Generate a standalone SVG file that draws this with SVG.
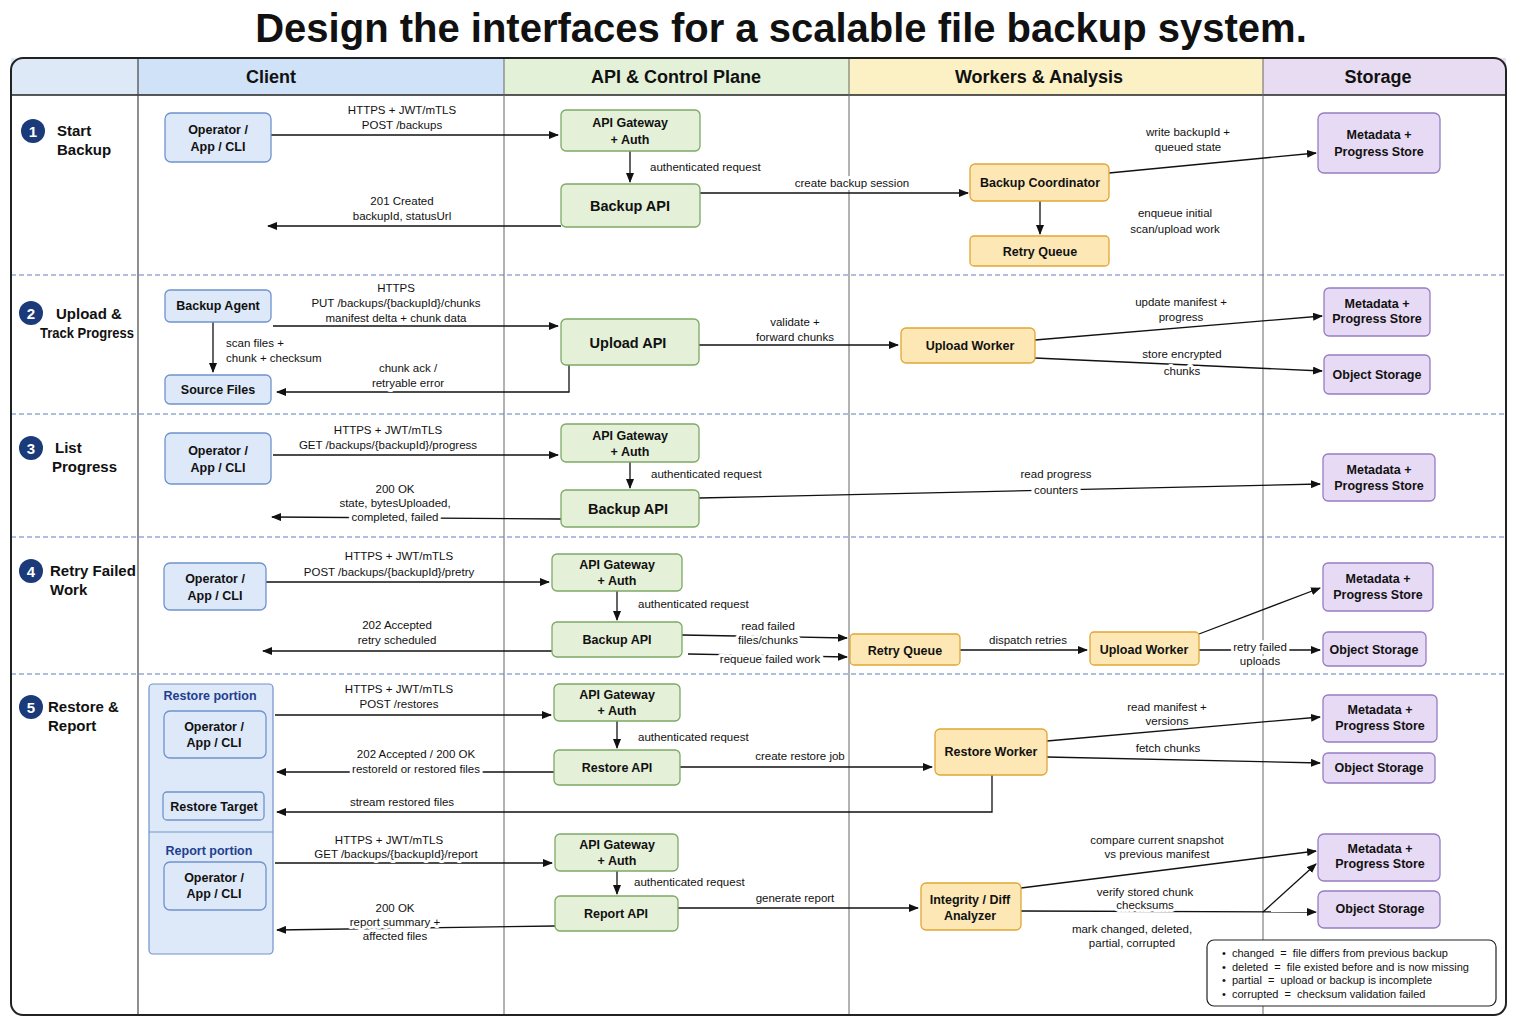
<svg xmlns="http://www.w3.org/2000/svg" width="1536" height="1024" viewBox="0 0 1536 1024">
<style>
text{font-family:"Liberation Sans",Arial,sans-serif;fill:#111}
.title{font-size:40px;font-weight:bold;text-anchor:middle}
.hd{font-size:18px;font-weight:bold;text-anchor:middle}
.rl{font-size:15px;font-weight:bold}
.num{font-size:15px;font-weight:bold;fill:#fff;text-anchor:middle}
.n{font-size:12.5px;font-weight:bold;text-anchor:middle}
.nb{font-size:14.5px;font-weight:bold;text-anchor:middle}
.l{font-size:11.5px;text-anchor:middle;paint-order:stroke;stroke:#fff;stroke-width:6px;stroke-linejoin:round}
.ls{text-anchor:start}
.c rect{fill:#dde8f8;stroke:#6f93cc;stroke-width:1.3}
.a rect{fill:#e4f0d7;stroke:#7da866;stroke-width:1.3}
.w rect{fill:#fde8b5;stroke:#e0a636;stroke-width:1.3}
.s rect{fill:#e7daf4;stroke:#977cc2;stroke-width:1.3}
.e line,.e polyline{stroke:#111;stroke-width:1.3;fill:none;marker-end:url(#ar)}
.sep{stroke:#5f7fbf;stroke-width:1.2;stroke-dasharray:5 3}
.pt{font-size:12.5px;font-weight:bold;fill:#1f3f8f;text-anchor:middle}
.lg{font-size:11px;white-space:pre}
</style>
<defs><marker id="ar" markerWidth="10" markerHeight="8" refX="9" refY="4" orient="auto" markerUnits="userSpaceOnUse"><path d="M0,0 L10,4 L0,8 z" fill="#111"/></marker></defs>
<rect width="1536" height="1024" fill="#fff"/>
<text class="title" x="781" y="42">Design the interfaces for a scalable file backup system.</text>
<g id="frame">
<rect x="11" y="58" width="127" height="37" fill="#dde9f7"/>
<rect x="138" y="58" width="366" height="37" fill="#cfe2f7"/>
<rect x="504" y="58" width="345" height="37" fill="#e3f1d8"/>
<rect x="849" y="58" width="414" height="37" fill="#fcf1c4"/>
<rect x="1263" y="58" width="243" height="37" fill="#e8dcf3"/>
<text class="hd" x="271" y="83">Client</text>
<text class="hd" x="676" y="83">API &amp; Control Plane</text>
<text class="hd" x="1039" y="83">Workers &amp; Analysis</text>
<text class="hd" x="1378" y="83">Storage</text>
<line x1="11" y1="95" x2="1506" y2="95" stroke="#222" stroke-width="1.5"/>
<line x1="138" y1="58" x2="138" y2="1015" stroke="#444" stroke-width="1.2"/>
<line x1="504" y1="58" x2="504" y2="1015" stroke="#666" stroke-width="1"/>
<line x1="849" y1="58" x2="849" y2="1015" stroke="#666" stroke-width="1"/>
<line x1="1263" y1="58" x2="1263" y2="1015" stroke="#666" stroke-width="1"/>
<line class="sep" x1="11" y1="275" x2="1506" y2="275"/>
<line class="sep" x1="11" y1="414" x2="1506" y2="414"/>
<line class="sep" x1="11" y1="537" x2="1506" y2="537"/>
<line class="sep" x1="11" y1="674" x2="1506" y2="674"/>
<rect x="11" y="58" width="1495" height="957" rx="12" fill="none" stroke="#222" stroke-width="2"/>
</g>
<g id="rowlabels">
<circle cx="33" cy="131" r="12" fill="#1a3a7a"/><text class="num" x="33" y="137">1</text>
<text class="rl" x="57" y="136">Start</text><text class="rl" x="57" y="155">Backup</text>
<circle cx="31" cy="313" r="12" fill="#1a3a7a"/><text class="num" x="31" y="319">2</text>
<text class="rl" x="56" y="319">Upload &amp;</text><text class="rl" x="40" y="338" textLength="94" lengthAdjust="spacingAndGlyphs">Track Progress</text>
<circle cx="31" cy="448" r="12" fill="#1a3a7a"/><text class="num" x="31" y="454">3</text>
<text class="rl" x="55" y="453">List</text><text class="rl" x="52" y="472">Progress</text>
<circle cx="31" cy="571" r="12" fill="#1a3a7a"/><text class="num" x="31" y="577">4</text>
<text class="rl" x="50" y="576">Retry Failed</text><text class="rl" x="50" y="595">Work</text>
<circle cx="31" cy="707" r="12" fill="#1a3a7a"/><text class="num" x="31" y="713">5</text>
<text class="rl" x="48" y="712">Restore &amp;</text><text class="rl" x="48" y="731">Report</text>
</g>
<g id="portions">
<rect x="149" y="684" width="124" height="270" rx="4" fill="#dde8f8" stroke="#6f93cc" stroke-width="1.2"/>
<line x1="149" y1="832" x2="273" y2="832" stroke="#6f93cc" stroke-width="1.2"/>
<text class="pt" x="210" y="700">Restore portion</text>
<text class="pt" x="209" y="855">Report portion</text>
</g>
<g id="connectors" class="e">
<line x1="271" y1="135" x2="558" y2="135"/>
<line x1="630" y1="151" x2="630" y2="182"/>
<line x1="700" y1="193" x2="968" y2="193"/>
<line x1="561" y1="226" x2="268" y2="226"/>
<line x1="1109" y1="173" x2="1316" y2="153"/>
<line x1="1040" y1="201" x2="1040" y2="234"/>
<line x1="273" y1="326" x2="558" y2="326"/>
<line x1="213" y1="322" x2="213" y2="372"/>
<polyline points="569,365 569,392 277,392"/>
<line x1="699" y1="345" x2="898" y2="345"/>
<line x1="1035" y1="340" x2="1322" y2="316"/>
<line x1="1035" y1="358" x2="1322" y2="371"/>
<line x1="273" y1="455" x2="558" y2="455"/>
<line x1="630" y1="462" x2="630" y2="488"/>
<line x1="699" y1="498" x2="1320" y2="484"/>
<line x1="561" y1="519" x2="272" y2="517"/>
<line x1="266" y1="582" x2="549" y2="582"/>
<line x1="617" y1="591" x2="617" y2="620"/>
<line x1="552" y1="651" x2="263" y2="651"/>
<line x1="682" y1="635" x2="847" y2="638"/>
<line x1="688" y1="654" x2="847" y2="657"/>
<line x1="960" y1="650" x2="1087" y2="650"/>
<line x1="1199" y1="634" x2="1320" y2="588"/>
<line x1="1199" y1="650" x2="1320" y2="650"/>
<line x1="275" y1="715" x2="551" y2="715"/>
<line x1="617" y1="721" x2="617" y2="748"/>
<line x1="554" y1="772" x2="277" y2="772"/>
<line x1="680" y1="767" x2="932" y2="767"/>
<line x1="1047" y1="741" x2="1320" y2="717"/>
<line x1="1047" y1="757" x2="1320" y2="763"/>
<polyline points="992,775 992,812 277,812"/>
<line x1="275" y1="863" x2="552" y2="863"/>
<line x1="617" y1="871" x2="617" y2="894"/>
<line x1="555" y1="926" x2="277" y2="930"/>
<line x1="678" y1="908" x2="918" y2="908"/>
<line x1="1021" y1="888" x2="1316" y2="851"/>
<line x1="1021" y1="911" x2="1316" y2="912"/>
<line x1="1263" y1="912" x2="1316" y2="864"/>
</g>
<g id="labels">
<text class="l" x="402" y="114">HTTPS + JWT/mTLS</text><text class="l" x="402" y="129">POST /backups</text>
<text class="l ls" x="650" y="171">authenticated request</text>
<text class="l" x="852" y="187">create backup session</text>
<text class="l" x="402" y="205">201 Created</text><text class="l" x="402" y="220">backupId, statusUrl</text>
<text class="l" x="1188" y="136">write backupId +</text><text class="l" x="1188" y="151">queued state</text>
<text class="l" x="1175" y="217">enqueue initial</text><text class="l" x="1175" y="233">scan/upload work</text>
<text class="l" x="396" y="292">HTTPS</text><text class="l" x="396" y="307">PUT /backups/{backupId}/chunks</text><text class="l" x="396" y="322">manifest delta + chunk data</text>
<text class="l ls" x="226" y="347">scan files +</text><text class="l ls" x="226" y="362">chunk + checksum</text>
<text class="l" x="408" y="372">chunk ack /</text><text class="l" x="408" y="387">retryable error</text>
<text class="l" x="795" y="326">validate +</text><text class="l" x="795" y="341">forward chunks</text>
<text class="l" x="1181" y="306">update manifest +</text><text class="l" x="1181" y="321">progress</text>
<text class="l" x="1182" y="358">store encrypted</text><text class="l" x="1182" y="375">chunks</text>
<text class="l" x="388" y="434">HTTPS + JWT/mTLS</text><text class="l" x="388" y="449">GET /backups/{backupId}/progress</text>
<text class="l ls" x="651" y="478">authenticated request</text>
<text class="l" x="1056" y="478">read progress</text><text class="l" x="1056" y="494">counters</text>
<text class="l" x="395" y="493">200 OK</text><text class="l" x="395" y="507">state, bytesUploaded,</text><text class="l" x="395" y="521">completed, failed</text>
<text class="l" x="399" y="560">HTTPS + JWT/mTLS</text><text class="l" x="389" y="576">POST /backups/{backupId}/pretry</text>
<text class="l ls" x="638" y="608">authenticated request</text>
<text class="l" x="397" y="629">202 Accepted</text><text class="l" x="397" y="644">retry scheduled</text>
<text class="l" x="768" y="630">read failed</text><text class="l" x="768" y="644">files/chunks</text>
<text class="l" x="770" y="663">requeue failed work</text>
<text class="l" x="1028" y="644">dispatch retries</text>
<text class="l" x="1260" y="651">retry failed</text><text class="l" x="1260" y="665">uploads</text>
<text class="l" x="399" y="693">HTTPS + JWT/mTLS</text><text class="l" x="399" y="708">POST /restores</text>
<text class="l ls" x="638" y="741">authenticated request</text>
<text class="l" x="416" y="758">202 Accepted / 200 OK</text><text class="l" x="416" y="773">restoreId or  restored files</text>
<text class="l" x="800" y="760">create restore job</text>
<text class="l" x="1167" y="711">read manifest +</text><text class="l" x="1167" y="725">versions</text>
<text class="l" x="1168" y="752">fetch chunks</text>
<text class="l" x="402" y="806">stream restored files</text>
<text class="l" x="389" y="844">HTTPS + JWT/mTLS</text><text class="l" x="396" y="858">GET /backups/{backupId}/report</text>
<text class="l ls" x="634" y="886">authenticated request</text>
<text class="l" x="395" y="912">200 OK</text><text class="l" x="395" y="926">report summary +</text><text class="l" x="395" y="940">affected files</text>
<text class="l" x="795" y="902">generate report</text>
<text class="l" x="1157" y="844">compare current snapshot</text><text class="l" x="1157" y="858">vs previous manifest</text>
<text class="l" x="1145" y="896">verify stored chunk</text><text class="l" x="1145" y="909">checksums</text>
<text class="l" x="1132" y="933">mark changed, deleted,</text><text class="l" x="1132" y="947">partial, corrupted</text>
</g>
<g id="n1-op" class="c"><rect x="165" y="113" width="106" height="49" rx="6"/><text class="n" x="218" y="134">Operator /</text><text class="n" x="218" y="151">App / CLI</text></g>
<g id="n1-gw" class="a"><rect x="561" y="110" width="139" height="41" rx="5"/><text class="n" x="630" y="127">API Gateway</text><text class="n" x="630" y="144">+ Auth</text></g>
<g id="n1-bapi" class="a"><rect x="561" y="184" width="139" height="43" rx="5"/><text class="nb" x="630" y="211">Backup API</text></g>
<g id="n1-coord" class="w"><rect x="970" y="164" width="139" height="37" rx="5"/><text class="n" x="1040" y="187">Backup Coordinator</text></g>
<g id="n1-rq" class="w"><rect x="970" y="236" width="139" height="30" rx="4"/><text class="n" x="1040" y="256">Retry Queue</text></g>
<g id="n1-meta" class="s"><rect x="1318" y="113" width="122" height="60" rx="6"/><text class="n" x="1379" y="139">Metadata +</text><text class="n" x="1379" y="156">Progress Store</text></g>
<g id="n2-agent" class="c"><rect x="165" y="290" width="106" height="32" rx="5"/><text class="n" x="218" y="310">Backup Agent</text></g>
<g id="n2-src" class="c"><rect x="165" y="375" width="106" height="29" rx="5"/><text class="n" x="218" y="394">Source Files</text></g>
<g id="n2-up" class="a"><rect x="561" y="319" width="138" height="46" rx="5"/><text class="nb" x="628" y="348">Upload API</text></g>
<g id="n2-uw" class="w"><rect x="901" y="328" width="134" height="35" rx="5"/><text class="n" x="970" y="350">Upload Worker</text></g>
<g id="n2-meta" class="s"><rect x="1324" y="288" width="106" height="48" rx="5"/><text class="n" x="1377" y="308">Metadata +</text><text class="n" x="1377" y="323">Progress Store</text></g>
<g id="n2-obj" class="s"><rect x="1324" y="355" width="106" height="39" rx="5"/><text class="n" x="1377" y="379">Object Storage</text></g>
<g id="n3-op" class="c"><rect x="165" y="433" width="106" height="51" rx="6"/><text class="n" x="218" y="455">Operator /</text><text class="n" x="218" y="472">App / CLI</text></g>
<g id="n3-gw" class="a"><rect x="561" y="424" width="138" height="38" rx="5"/><text class="n" x="630" y="440">API Gateway</text><text class="n" x="630" y="456">+ Auth</text></g>
<g id="n3-bapi" class="a"><rect x="561" y="490" width="138" height="37" rx="5"/><text class="nb" x="628" y="514">Backup API</text></g>
<g id="n3-meta" class="s"><rect x="1323" y="454" width="112" height="47" rx="5"/><text class="n" x="1379" y="474">Metadata +</text><text class="n" x="1379" y="490">Progress Store</text></g>
<g id="n4-op" class="c"><rect x="164" y="563" width="102" height="47" rx="6"/><text class="n" x="215" y="583">Operator /</text><text class="n" x="215" y="600">App / CLI</text></g>
<g id="n4-gw" class="a"><rect x="552" y="554" width="130" height="37" rx="5"/><text class="n" x="617" y="569">API Gateway</text><text class="n" x="617" y="585">+ Auth</text></g>
<g id="n4-bapi" class="a"><rect x="552" y="622" width="130" height="35" rx="5"/><text class="n" x="617" y="644">Backup API</text></g>
<g id="n4-rq" class="w"><rect x="850" y="634" width="110" height="31" rx="4"/><text class="n" x="905" y="655">Retry Queue</text></g>
<g id="n4-uw" class="w"><rect x="1090" y="632" width="109" height="33" rx="4"/><text class="n" x="1144" y="654">Upload Worker</text></g>
<g id="n4-meta" class="s"><rect x="1323" y="563" width="110" height="48" rx="5"/><text class="n" x="1378" y="583">Metadata +</text><text class="n" x="1378" y="599">Progress Store</text></g>
<g id="n4-obj" class="s"><rect x="1323" y="632" width="103" height="34" rx="5"/><text class="n" x="1374" y="654">Object Storage</text></g>
<g id="n5-op" class="c"><rect x="164" y="711" width="102" height="47" rx="6"/><text class="n" x="214" y="731">Operator /</text><text class="n" x="214" y="747">App / CLI</text></g>
<g id="n5-target" class="c"><rect x="163" y="792" width="101" height="28" rx="4"/><text class="n" x="214" y="811">Restore Target</text></g>
<g id="n5-gw" class="a"><rect x="554" y="684" width="126" height="37" rx="5"/><text class="n" x="617" y="699">API Gateway</text><text class="n" x="617" y="715">+ Auth</text></g>
<g id="n5-rapi" class="a"><rect x="554" y="750" width="126" height="35" rx="5"/><text class="n" x="617" y="772">Restore API</text></g>
<g id="n5-rw" class="w"><rect x="935" y="729" width="112" height="46" rx="5"/><text class="n" x="991" y="756">Restore Worker</text></g>
<g id="n5-meta" class="s"><rect x="1323" y="695" width="114" height="47" rx="5"/><text class="n" x="1380" y="714">Metadata +</text><text class="n" x="1380" y="730">Progress Store</text></g>
<g id="n5-obj" class="s"><rect x="1323" y="753" width="112" height="30" rx="5"/><text class="n" x="1379" y="772">Object Storage</text></g>
<g id="n6-op" class="c"><rect x="164" y="862" width="102" height="48" rx="6"/><text class="n" x="214" y="882">Operator /</text><text class="n" x="214" y="898">App / CLI</text></g>
<g id="n6-gw" class="a"><rect x="555" y="834" width="123" height="37" rx="5"/><text class="n" x="617" y="849">API Gateway</text><text class="n" x="617" y="865">+ Auth</text></g>
<g id="n6-rapi" class="a"><rect x="555" y="896" width="123" height="35" rx="5"/><text class="n" x="616" y="918">Report API</text></g>
<g id="n6-ida" class="w"><rect x="921" y="883" width="100" height="47" rx="5"/><text class="n" x="970" y="904">Integrity / Diff</text><text class="n" x="970" y="920">Analyzer</text></g>
<g id="n6-meta" class="s"><rect x="1318" y="834" width="122" height="47" rx="6"/><text class="n" x="1380" y="853">Metadata +</text><text class="n" x="1380" y="868">Progress Store</text></g>
<g id="n6-obj" class="s"><rect x="1318" y="891" width="122" height="37" rx="6"/><text class="n" x="1380" y="913">Object Storage</text></g>
<g id="legend">
<rect x="1207" y="940" width="289" height="66" rx="7" fill="#fff" stroke="#222" stroke-width="1.2"/>
<text class="lg" x="1222" y="957">•  changed  =  file differs from previous backup</text>
<text class="lg" x="1222" y="971">•  deleted  =  file existed before and is now missing</text>
<text class="lg" x="1222" y="984">•  partial  =  upload or backup is incomplete</text>
<text class="lg" x="1222" y="998">•  corrupted  =  checksum validation failed</text>
</g>
</svg>
